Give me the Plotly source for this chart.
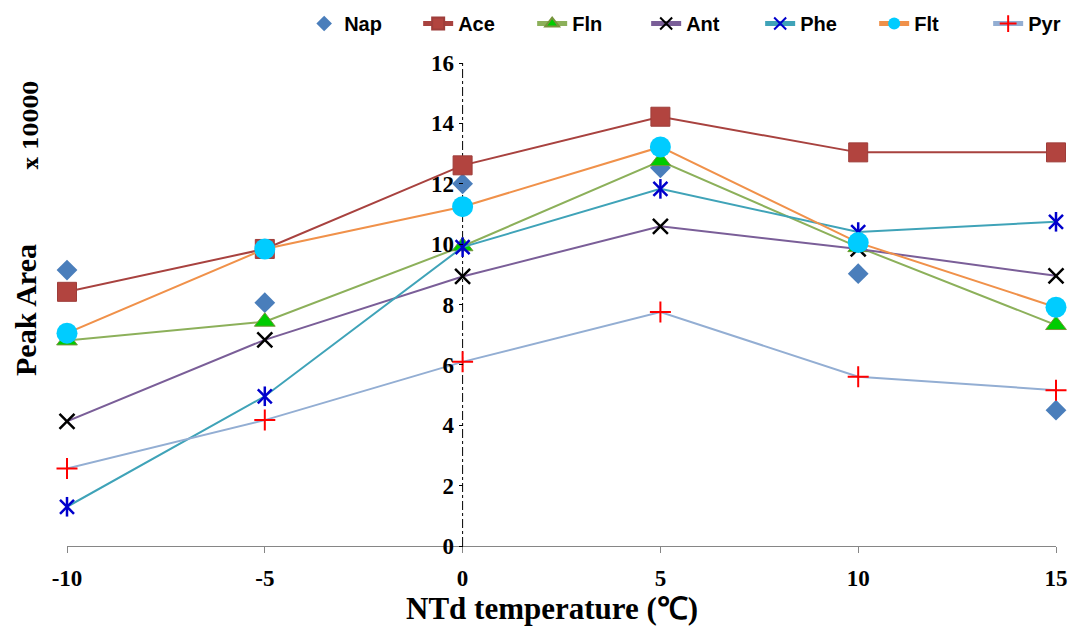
import plotly.graph_objects as go

temps = [-10, -5, 0, 5, 10, 15]
nap = [9.14, 8.06, 12.0, 12.53, 9.02, 4.5]
ace = [8.42, 9.84, 12.61, 14.22, 13.04, 13.04]
fln = [6.81, 7.43, 9.93, 12.75, 9.9, 7.32]
ant = [4.13, 6.83, 8.93, 10.59, 9.84, 8.95]
phe = [1.3, 4.96, 9.9, 11.83, 10.4, 10.74]
flt = [7.05, 9.84, 11.24, 13.22, 10.05, 7.91]
pyr = [2.57, 4.17, 6.1, 7.75, 5.61, 5.16]

x_ticks = [-10, -5, 0, 5, 10, 15]
y_ticks = [0, 2, 4, 6, 8, 10, 12, 14, 16]

fig = go.Figure()

fig.add_trace(go.Scatter(x=temps, y=nap, name="Nap", mode="markers", cliponaxis=False,
                         marker=dict(symbol="diamond", size=16, color="#4A7EBB",
                                     line=dict(width=0))))
fig.add_trace(go.Scatter(x=temps, y=ace, name="Ace", mode="lines+markers", cliponaxis=False,
                         line=dict(color="#A8423F", width=2),
                         marker=dict(symbol="square", size=19, color="#B2443F",
                                     line=dict(width=1, color="#9E3D3A"))))
fig.add_trace(go.Scatter(x=temps, y=fln, name="Fln", mode="lines+markers", cliponaxis=False,
                         line=dict(color="#8CB05A", width=2),
                         marker=dict(symbol="triangle-up", size=18, color="#00CC00",
                                     line=dict(width=1, color="#77933C"))))
fig.add_trace(go.Scatter(x=temps, y=ant, name="Ant", mode="lines+markers", cliponaxis=False,
                         line=dict(color="#7A5E98", width=2),
                         marker=dict(symbol="x-thin-open", size=15, color="#000000",
                                     line=dict(width=2.5, color="#000000"))))
fig.add_trace(go.Scatter(x=temps, y=phe, name="Phe", mode="lines+markers", cliponaxis=False,
                         line=dict(color="#3FA3B8", width=2),
                         marker=dict(symbol="x-thin-open", size=14, color="#0000CC",
                                     line=dict(width=2.5, color="#0000CC"))))
fig.add_trace(go.Scatter(x=temps, y=phe, name="Phe", mode="markers", showlegend=False,
                         cliponaxis=False,
                         marker=dict(symbol="line-ns-open", size=14, color="#0000CC",
                                     line=dict(width=2.5, color="#0000CC"))))
fig.add_trace(go.Scatter(x=temps, y=flt, name="Flt", mode="lines+markers", cliponaxis=False,
                         line=dict(color="#F0914A", width=2),
                         marker=dict(symbol="circle", size=21, color="#00CCFF",
                                     line=dict(width=0))))
fig.add_trace(go.Scatter(x=temps, y=pyr, name="Pyr", mode="lines+markers", cliponaxis=False,
                         line=dict(color="#93AED3", width=2),
                         marker=dict(symbol="cross-thin-open", size=15, color="#FF0000",
                                     line=dict(width=2, color="#FF0000"))))

# dash-dot vertical y-axis line at x = 0
fig.add_shape(type="line", x0=0, x1=0, y0=0, y1=16, xref="x", yref="y",
              line=dict(color="#000000", width=1, dash="dashdot"), layer="below")

serif = "Liberation Serif, Times New Roman, serif"

fig.update_layout(
    width=1069, height=620,
    margin=dict(l=59, r=21, t=55, b=82, autoexpand=False),
    paper_bgcolor="white", plot_bgcolor="white",
    showlegend=True,
    legend=dict(orientation="h", xref="paper", yref="paper",
                x=0.2398, y=1.122, xanchor="left", yanchor="top",
                font=dict(family="Liberation Sans, Arial, sans-serif", size=20,
                          color="#000000", weight="bold"),
                entrywidth=69, entrywidthmode="pixels",
                bgcolor="rgba(0,0,0,0)", itemsizing="constant"),
    xaxis=dict(range=[-10, 15], tickvals=x_ticks, ticktext=[str(v) for v in x_ticks],
               showgrid=False, zeroline=False, showline=True, linecolor="#868686",
               linewidth=1, ticks="outside", ticklen=6, tickcolor="#868686",
               ticklabelstandoff=5, automargin=False,
               tickfont=dict(family=serif, size=23, color="#000000", weight="bold")),
    yaxis=dict(range=[0, 16], tickvals=y_ticks, ticktext=[str(v) for v in y_ticks],
               anchor="free", position=0.4, showgrid=False, zeroline=False,
               showline=False, ticks="outside", ticklen=4, tickcolor="#000000",
               automargin=False,
               tickfont=dict(family=serif, size=23, color="#000000", weight="bold")),
)

fig.add_annotation(text="NTd temperature (℃)", xref="paper", yref="paper",
                   x=0.49, y=-0.1284, xanchor="center", yanchor="middle",
                   showarrow=False,
                   font=dict(family=serif, size=31, color="#000000", weight="bold"))
fig.add_annotation(text="Peak Area", xref="paper", yref="paper",
                   x=-0.0425, y=0.4886, xanchor="center", yanchor="middle",
                   textangle=-90, showarrow=False,
                   font=dict(family=serif, size=30, color="#000000", weight="bold"))
fig.add_annotation(text="x 10000", xref="paper", yref="paper",
                   x=-0.037, y=0.872, xanchor="center", yanchor="middle",
                   textangle=-90, showarrow=False,
                   font=dict(family="DejaVu Serif, serif", size=20, color="#000000",
                             weight="bold"))

fig.write_html("out.html")
